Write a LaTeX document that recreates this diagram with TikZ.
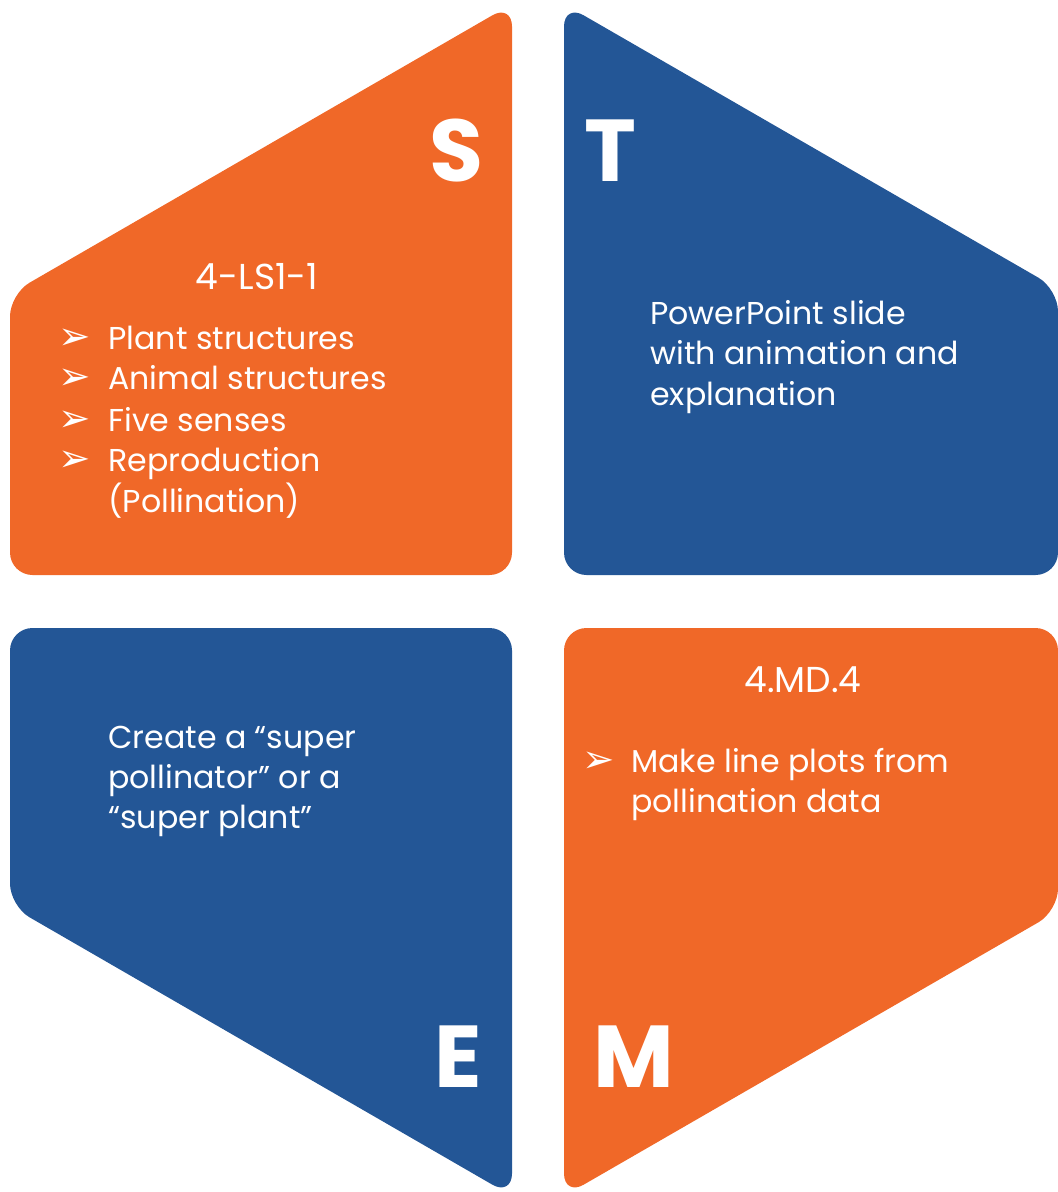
\documentclass[tikz,border=0pt]{standalone}
\usepackage{fontspec}
\setmainfont{Poppins}
\newfontfamily\symfont{DejaVu Sans}
\definecolor{stemorange}{RGB}{240,104,40}
\definecolor{stemblue}{RGB}{35,86,150}
\tikzset{
  panel/.style={fill=#1, rounded corners=0.45cm},
  txt/.style={text=white, inner sep=0pt, anchor=base west, font=\fontsize{18}{22}\selectfont},
  ttl/.style={text=white, inner sep=0pt, anchor=base, font=\fontsize{20.5}{24}\selectfont},
  bul/.style={text=white, inner sep=0pt, anchor=base west, font=\symfont\fontsize{22}{26}\selectfont},
  big/.style={text=white, inner sep=0pt, anchor=base, font=\bfseries\fontsize{50}{60}\selectfont}
}
\begin{document}
\begin{tikzpicture}[x=0.02cm, y=-0.02cm]
      \useasboundingbox (0, 0) rectangle (1057, 1192);

      % the four parts of the hexagon
      \fill [panel=stemorange] (512, 4) -- (10, 294) -- (10, 575) -- (512, 575) -- cycle;
      \fill [panel=stemblue] (564, 4) -- (1058, 289) -- (1058, 575) -- (564, 575) -- cycle;
      \fill [panel=stemblue] (10, 628) -- (512, 628) -- (512, 1196) -- (10, 906) -- cycle;
      \fill [panel=stemorange] (564, 628) -- (1058, 628) -- (1058, 911) -- (564, 1196) -- cycle;

      \node [big] (S) at (457, 182) {S};
      \node [big] (T) at (610, 182) {T};
      \node [big] (E) at (458, 1087) {E};
      \node [big] (M) at (634, 1087) {M};

      \node [ttl] (sci) at (257, 290) {4-LS1-1};
      \node [bul] (sb1) at (58, 350) {➢};
      \node [txt] (s1) at (108, 350) {Plant structures};
      \node [bul] (sb2) at (58, 390) {➢};
      \node [txt] (s2) at (108, 390) {Animal structures};
      \node [bul] (sb3) at (58, 431) {➢};
      \node [txt] (s3) at (108, 431) {Five senses};
      \node [bul] (sb4) at (58, 471) {➢};
      \node [txt] (s4) at (108, 471) {Reproduction};
      \node [txt] (s5) at (108, 512) {(Pollination)};

      \node [txt] (t1) at (650, 325) {PowerPoint slide};
      \node [txt] (t2) at (650, 365) {with animation and};
      \node [txt] (t3) at (650, 405) {explanation};

      \node [txt] (e1) at (108, 748) {Create a “super};
      \node [txt] (e2) at (108, 788) {pollinator” or a};
      \node [txt] (e3) at (108, 828) {“super plant”};

      \node [ttl] (math) at (803, 692) {4.MD.4};
      \node [bul] (mb1) at (582, 772) {➢};
      \node [txt] (m1) at (631, 772) {Make line plots from};
      \node [txt] (m2) at (631, 812) {pollination data};
\end{tikzpicture}
\end{document}
